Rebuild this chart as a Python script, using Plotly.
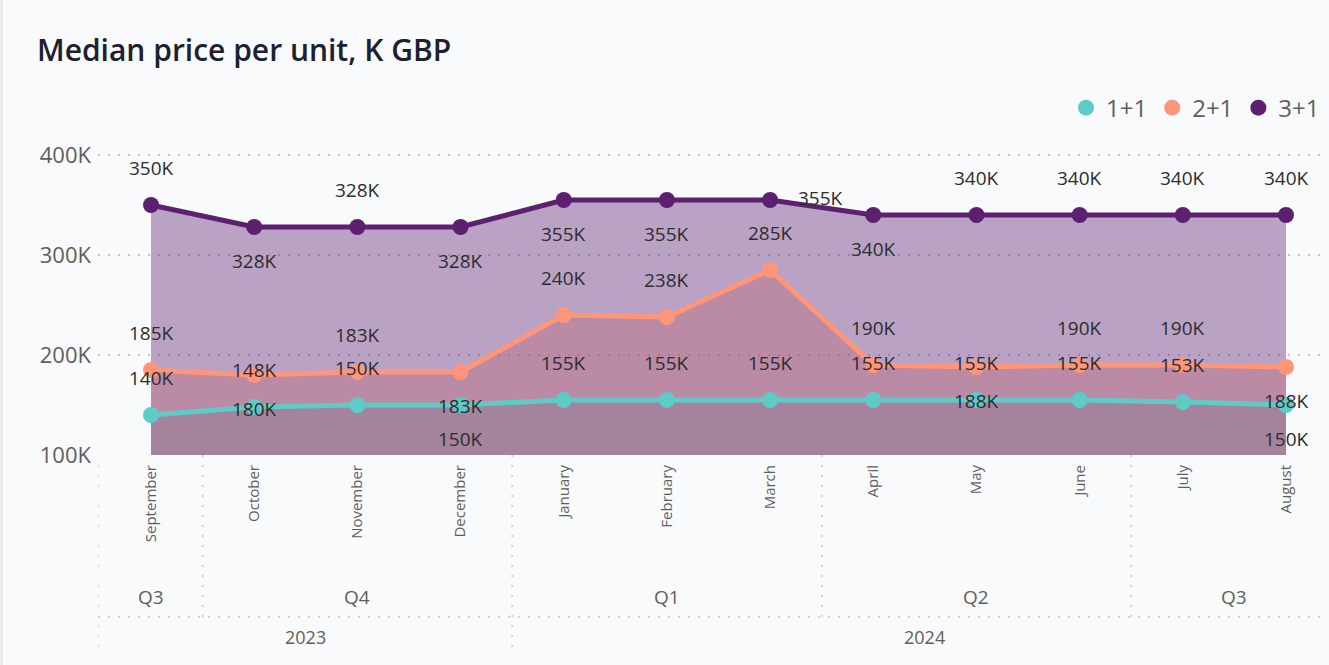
import plotly.graph_objects as go

# ---------------- data ----------------
months = ["September", "October", "November", "December", "January", "February",
          "March", "April", "May", "June", "July", "August"]
quarters = ["Q3", "Q4", "Q4", "Q4", "Q1", "Q1", "Q1", "Q2", "Q2", "Q2", "Q3", "Q3"]
years = ["2023", "2023", "2023", "2023", "2024", "2024", "2024", "2024", "2024", "2024", "2024", "2024"]

series_names = ["1+1", "2+1", "3+1"]
vals_1p1 = [140, 148, 150, 150, 155, 155, 155, 155, 155, 155, 153, 150]
vals_2p1 = [185, 180, 183, 183, 240, 238, 285, 190, 188, 190, 190, 188]
vals_3p1 = [350, 328, 328, 328, 355, 355, 355, 340, 340, 340, 340, 340]
y_ticks = [100, 200, 300, 400]

# ---------------- styles ----------------
colors = ["#5ECBC6", "#FF9579", "#5D1F70"]
fills = ["rgba(94,203,198,0.4)", "rgba(255,149,121,0.4)", "rgba(93,31,112,0.4)"]
# label placement per point: 'a' above, 'b' below, 'r' right
label_pos = [
    ["a", "a", "a", "b", "a", "a", "a", "a", "a", "a", "a", "b"],
    ["a", "b", "a", "b", "a", "a", "a", "a", "b", "a", "a", "b"],
    ["a", "b", "a", "b", "b", "b", "r", "b", "a", "a", "a", "a"],
]
series_vals = [vals_1p1, vals_2p1, vals_3p1]
FONT = "Open Sans"
GRID = "#C6C6C6"
DOT = "2px,8px"
TXT = "#605E5C"
BG = "#F9FAFC"

idx = list(range(len(months)))
fig = go.Figure()

# filled areas (drawn first so all lines sit on top)
for vals, fc in zip(series_vals, fills):
    fig.add_trace(go.Scatter(x=idx, y=vals, mode="none", fill="tozeroy",
                             fillcolor=fc, showlegend=False, hoverinfo="skip"))

# lines + markers
for name, vals, c in zip(series_names, series_vals, colors):
    fig.add_trace(go.Scatter(x=idx, y=vals, mode="lines+markers", name=name,
                             line=dict(color=c, width=5),
                             marker=dict(color=c, size=16),
                             showlegend=False))

# legend-only marker entries
for name, c in zip(series_names, colors):
    fig.add_trace(go.Scatter(x=[None], y=[None], mode="markers", name=name,
                             marker=dict(color=c, size=20), showlegend=True))

annotations = []
# data labels
for vals, poss in zip(series_vals, label_pos):
    for i, (v, p) in enumerate(zip(vals, poss)):
        xs, ys = 0, 0
        if p == "a":
            ys = 37
        elif p == "b":
            ys = -34
        else:
            xs, ys = 50, 2
        annotations.append(dict(x=i, y=v, xref="x", yref="y", text=f"{v}K",
                                showarrow=False, xshift=xs, yshift=ys,
                                font=dict(family=FONT, size=19, color="#2E2D2C")))

# hierarchy (quarter / year) labels and separators
def runs(labels):
    out = []
    start = 0
    for i in range(1, len(labels) + 1):
        if i == len(labels) or labels[i] != labels[start]:
            out.append((labels[start], start, i - 1))
            start = i
    return out

qkeys = [y + q for y, q in zip(years, quarters)]
shapes = []
Q_Y, Y_Y, SEP_Y, BOT_Y = -0.458, -0.587, -0.5226, -0.645
x_left = -0.514
for key, s, e in runs(qkeys):
    annotations.append(dict(x=(s + e) / 2, y=Q_Y, xref="x", yref="paper",
                            text=quarters[s], showarrow=False, yanchor="middle",
                            font=dict(family=FONT, size=19, color=TXT)))
year_runs = runs(years)
year_bounds = [e + 0.5 for _, _, e in year_runs[:-1]]
for key, s, e in runs(qkeys)[:-1]:
    b = e + 0.5
    y1 = BOT_Y if b in year_bounds else SEP_Y
    shapes.append(dict(type="line", xref="x", yref="paper", x0=b, x1=b, y0=0, y1=y1,
                       line=dict(color=GRID, width=1.5, dash=DOT)))
for yr, s, e in year_runs:
    annotations.append(dict(x=(s + e) / 2, y=Y_Y, xref="x", yref="paper",
                            text=yr, showarrow=False, yanchor="middle",
                            font=dict(family=FONT, size=18, color=TXT)))
shapes.append(dict(type="line", xref="x", yref="paper", x0=x_left, x1=x_left, y0=0, y1=BOT_Y,
                   line=dict(color=GRID, width=1.5, dash=DOT)))
shapes.append(dict(type="line", xref="x", yref="paper", x0=x_left, x1=11.45, y0=SEP_Y, y1=SEP_Y,
                   line=dict(color=GRID, width=1.5, dash=DOT)))
# light panel border on the left edge
shapes.append(dict(type="line", xref="paper", yref="paper", x0=-0.0786, x1=-0.0786,
                   y0=-0.68, y1=1.47, line=dict(color="#E3E3E3", width=2)))

fig.update_layout(
    width=1329, height=665,
    margin=dict(l=98, r=4, t=145, b=210),
    paper_bgcolor=BG, plot_bgcolor=BG,
    title=dict(text="Median price per unit, K GBP", x=37 / 1329, xref="container",
               xanchor="left", y=1 - 50 / 665, yref="container", yanchor="middle",
               font=dict(family=FONT, size=30, color="#1C2130", weight=600)),
    legend=dict(orientation="h", x=1.0, xanchor="right", y=1.119, yanchor="middle",
                font=dict(family=FONT, size=24, color=TXT), bgcolor="rgba(0,0,0,0)",
                itemwidth=30, tracegroupgap=0),
    xaxis=dict(range=[x_left, 11.378], tickmode="array", tickvals=idx, ticktext=months,
               tickangle=-90, tickfont=dict(family=FONT, size=15, color=TXT),
               showgrid=False, zeroline=False, showline=False, ticks="",
               ticklabelstandoff=6),
    yaxis=dict(range=[100, 410], tickmode="array", tickvals=y_ticks,
               ticktext=[f"{t}K" for t in y_ticks],
               tickfont=dict(family=FONT, size=22, color=TXT),
               showgrid=True, gridcolor=GRID, griddash=DOT, gridwidth=1.5,
               zeroline=False, showline=False, ticklabelstandoff=6),
    annotations=annotations,
    shapes=shapes,
    hovermode=False,
)

fig.write_html("out.html", config={"displayModeBar": False},
               post_script="document.body.style.margin='0px';"
                           "document.body.style.background='#F9FAFC';")
